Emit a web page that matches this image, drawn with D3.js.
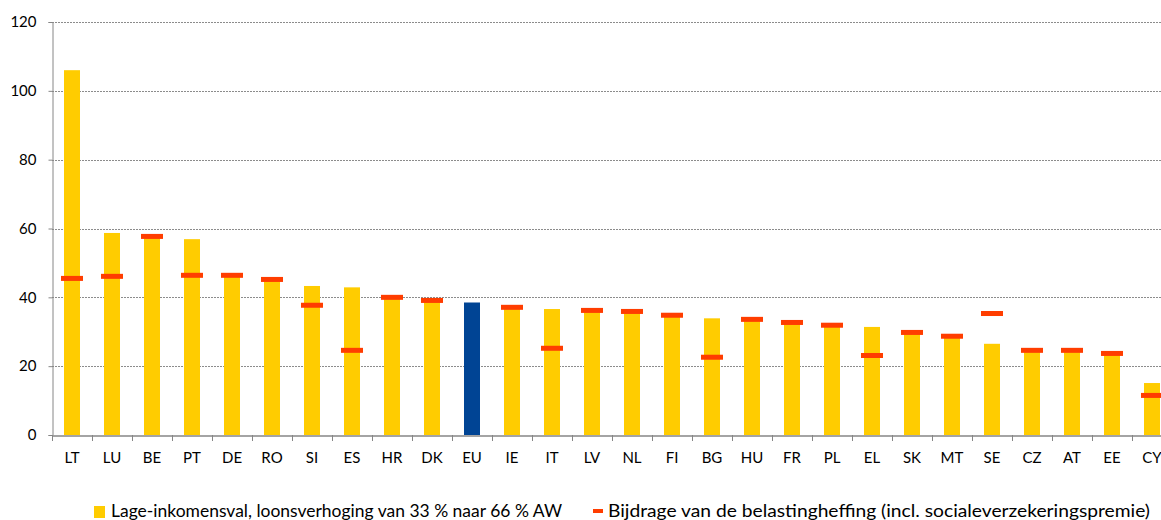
<!DOCTYPE html>
<html><head><meta charset="utf-8">
<script src="https://cdn.jsdelivr.net/npm/d3@7"></script>
<style>body{margin:0;background:#fff;} svg{display:block;font-family:Lato,"Open Sans",sans-serif;}</style>
</head><body><svg id="c" width="1161" height="520"></svg>
<script>
const categories = ["LT","LU","BE","PT","DE","RO","SI","ES","HR","DK","EU","IE","IT","LV","NL","FI","BG","HU","FR","PL","EL","SK","MT","SE","CZ","AT","EE","CY"];
const trapValues = [106,58.7,57.4,56.9,46.0,44.9,43.3,42.9,39.6,38.8,38.5,36.8,36.6,35.9,35.6,34.5,33.9,33.3,32.4,31.6,31.4,29.5,28.4,26.5,24.3,24.3,23.4,15.1];
const taxValues = [45.5,46.1,57.7,46.4,46.4,45.2,37.7,24.6,40.0,39.1,null,37.1,25.2,36.2,35.9,34.8,22.6,33.6,32.7,31.9,23.1,29.8,28.7,35.3,24.6,24.6,23.7,11.5];
const yTicks = [0,20,40,60,80,100,120];
const legendLabels = ["Lage-inkomensval, loonsverhoging van 33 % naar 66 % AW","Bijdrage van de belastingheffing (incl. socialeverzekeringspremie)"];

const svg = d3.select("#c");
const x0 = 52, y0 = 435, yTop = 22, band = 40;
const x = d3.scaleBand().domain(categories).range([x0, x0 + band*categories.length]).paddingInner(0.6).paddingOuter(0.3);
const xb = d3.scaleBand().domain(categories).range([x0, x0 + band*categories.length]);
const y = d3.scaleLinear().domain([0,120]).range([y0, yTop]);

// gridlines
svg.append("g").selectAll("line").data(yTicks.filter(d=>d>0)).join("line")
  .attr("x1", x0).attr("x2", 1161).attr("y1", d=>Math.round(y(d))+0.5).attr("y2", d=>Math.round(y(d))+0.5)
  .attr("stroke","#8c8c8c").attr("stroke-width",1).attr("stroke-dasharray","2,1");

// y axis
const yAxis = d3.axisLeft(y).tickValues(yTicks).tickSize(4).tickPadding(12);
const gy = svg.append("g").attr("transform",`translate(${x0+0.5},0)`).call(yAxis);
gy.select(".domain").attr("stroke","#868686");
gy.selectAll(".tick line").attr("stroke","#868686");
gy.selectAll(".tick text").attr("fill","#000").style("font-size","15px").style("font-family","Lato,'Open Sans',sans-serif");

// bars
svg.append("g").selectAll("rect").data(categories).join("rect")
  .attr("x", d=>x(d)).attr("width", x.bandwidth())
  .attr("y", (d,i)=>y(trapValues[i])).attr("height", (d,i)=>y0 - y(trapValues[i]))
  .attr("fill", d=> d==="EU" ? "#004494" : "#FFCC00");

// x axis
const xAxis = d3.axisBottom(xb).tickSize(0).tickPadding(17);
const gx = svg.append("g").attr("transform",`translate(0,${y0+0.5})`).call(xAxis);
gx.select(".domain").attr("stroke","#868686").attr("stroke-width",1.5);
gx.selectAll(".tick text").attr("fill","#000").style("font-size","15px").style("font-family","Lato,'Open Sans',sans-serif");
// boundary ticks
svg.append("g").selectAll("line").data(categories).join("line")
  .attr("x1", d=>Math.round(xb(d))+0.5).attr("x2", d=>Math.round(xb(d))+0.5)
  .attr("y1", y0).attr("y2", y0+6).attr("stroke","#868686");

// tax markers
const mw = 22;
svg.append("g").selectAll("rect").data(categories.map((c,i)=>({c,v:taxValues[i]})).filter(d=>d.v!==null)).join("rect")
  .attr("x", d=>x(d.c)+x.bandwidth()/2 - mw/2).attr("width", mw)
  .attr("y", d=>y(d.v)-2.5).attr("height", 5)
  .attr("fill","#FF3D00");

// legend
const lg = svg.append("g");
lg.append("rect").attr("x",94).attr("y",506).attr("width",11).attr("height",12).attr("fill","#FFCC00");
lg.append("text").attr("x",111).attr("y",517).text(legendLabels[0]).style("font-size","17px").attr("fill","#000")
  .attr("textLength",451).attr("lengthAdjust","spacingAndGlyphs");
lg.append("rect").attr("x",593).attr("y",509).attr("width",10).attr("height",4).attr("fill","#FF3D00");
lg.append("text").attr("x",608).attr("y",517).text(legendLabels[1]).style("font-size","17px").attr("fill","#000")
  .attr("textLength",542).attr("lengthAdjust","spacingAndGlyphs");
</script></body></html>
